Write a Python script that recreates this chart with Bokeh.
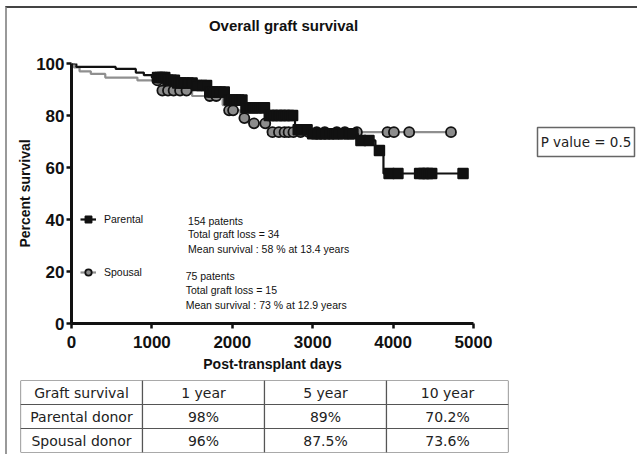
import numpy as np
from bokeh.plotting import figure
from bokeh.models import Range1d, Label, Legend, LegendItem, ColumnDataSource, FixedTicker
from bokeh.layouts import column, row
from bokeh.embed import file_html
from bokeh.resources import INLINE
from bokeh.core.properties import value

# ---------------- data ----------------
parental_times = [0, 60, 550, 800, 900, 1000, 1200, 1300, 1550, 1700, 1950, 2150, 2450,
                  2780, 2980, 3560, 3780, 3880]
parental_surv = [100, 98.7, 97.9, 96.5, 95.5, 94.6, 93.6, 92.5, 91.5, 89.0, 86.0, 83.0, 80.0,
                 74.5, 73.0, 70.4, 66.5, 57.7]
parental_end = 4920
parental_censor = [1070, 1100, 1130, 1160, 1200, 1240, 1280, 1320, 1360, 1400, 1450, 1500,
                   1560, 1620, 1680, 1720, 1760, 1800, 1850, 1900, 1960, 2000, 2040, 2080,
                   2120, 2170, 2220, 2260, 2300, 2350, 2400, 2460, 2500, 2560, 2600, 2650,
                   2700, 2750, 2820, 2870, 2930, 3000, 3050, 3100, 3150, 3200, 3260, 3310,
                   3380, 3450, 3500, 3600, 3700, 3830, 3950, 4060, 4330, 4380, 4430, 4480,
                   4870]

spousal_times = [0, 30, 100, 240, 420, 820, 1100, 1500, 1880, 1950, 2100, 2200, 2440]
spousal_surv = [100, 98.5, 97.0, 96.0, 94.6, 93.5, 89.6, 87.5, 84.0, 82.0, 79.0, 77.0, 73.6]
spousal_end = 4720
spousal_censor = [1070, 1130, 1200, 1270, 1350, 1430, 1720, 1800, 1960, 2010, 2150, 2270,
                  2410, 2500, 2580, 2650, 2700, 2760, 2850, 2950, 3050, 3150, 3300, 3400,
                  3550, 3930, 4010, 4200, 4720]

x_ticks = [0, 1000, 2000, 3000, 4000, 5000]
y_ticks = [0, 20, 40, 60, 80, 100]

title_text = ["Overall graft survival"]
parental_note = ["154 patents", "Total graft loss = 34", "Mean survival : 58 % at 13.4  years"]
spousal_note = ["75 patents", "Total graft loss = 15", "Mean survival : 73 % at 12.9 years"]

table_header = ["Graft survival", "1 year", "5 year", "10 year"]
table_groups = ["Parental donor", "Spousal donor"]
parental_table = ["98%", "89%", "70.2%"]
spousal_table = ["96%", "87.5%", "73.6%"]
p_value_text = ["P value = 0.5"]

# ---------------- styles ----------------
SANS = "Liberation Sans"
TABLE_FONT = "DejaVu Sans"


def km_step(times, surv, end):
    return list(times) + [end], list(surv) + [surv[-1]]


def at_times(times, surv, pts):
    idx = np.searchsorted(np.array(times), np.array(pts), side="right") - 1
    return [surv[i] for i in idx]


def blank(fig):
    fig.frame_align = False
    fig.grid.grid_line_color = None
    fig.outline_line_color = None
    return fig


# ---------------- title strip ----------------
tf = blank(figure(width=520, height=34, x_range=Range1d(0, 1), y_range=Range1d(0, 1),
                  output_backend="svg", toolbar_location=None,
                  x_axis_location=None, y_axis_location=None,
                  min_border_left=64, min_border_right=54, min_border_top=0, min_border_bottom=0))
tf.text(x=[0.5], y=[0.5], text=title_text, x_offset=11, text_align="center",
        text_baseline="middle", text_font=value(SANS), text_font_style="bold",
        text_font_size="15px", text_color="#111111")

# ---------------- survival plot ----------------
p = figure(width=520, height=336, x_range=Range1d(0, 5000), y_range=Range1d(0, 100),
           output_backend="svg", toolbar_location=None,
           min_border_left=64, min_border_right=54, min_border_top=21, min_border_bottom=55)
p.frame_align = False
p.outline_line_color = None
p.grid.grid_line_color = None
p.background_fill_color = "white"
p.border_fill_color = "white"

sx, sy = km_step(spousal_times, spousal_surv, spousal_end)
sp_line = p.step(sx, sy, mode="after", line_color="#8f8f8f", line_width=2.2)
sp_src = ColumnDataSource(dict(x=spousal_censor, y=at_times(spousal_times, spousal_surv, spousal_censor)))
sp_mark = p.scatter("x", "y", source=sp_src, marker="circle", size=10, fill_color="#8c8c8c",
                    line_color="#111111", line_width=1.8)

px, py = km_step(parental_times, parental_surv, parental_end)
pa_line = p.step(px, py, mode="after", line_color="#111111", line_width=2.2)
pa_src = ColumnDataSource(dict(x=parental_censor, y=at_times(parental_times, parental_surv, parental_censor)))
pa_mark = p.scatter("x", "y", source=pa_src, marker="square", size=10, fill_color="#111111",
                    line_color="#111111", line_width=1.5)

for ax in (p.xaxis[0], p.yaxis[0]):
    ax.axis_line_width = 3
    ax.axis_line_color = "#111111"
    ax.major_tick_line_width = 2.5
    ax.major_tick_line_color = "#111111"
    ax.major_tick_out = 5
    ax.major_tick_in = 0
    ax.minor_tick_line_color = None
    ax.major_label_text_font = SANS
    ax.major_label_text_font_style = "bold"
    ax.major_label_text_font_size = "17px"
    ax.major_label_text_color = "#111111"
    ax.axis_label_text_font = SANS
    ax.axis_label_text_font_style = "bold"
    ax.axis_label_text_font_size = "14px"
    ax.axis_label_text_color = "#111111"

p.xaxis.ticker = FixedTicker(ticks=x_ticks)
p.yaxis.ticker = FixedTicker(ticks=y_ticks)
p.xaxis.axis_label = "Post-transplant days"
p.yaxis.axis_label = "Percent survival"
p.xaxis.major_label_standoff = 7
p.yaxis.major_label_standoff = 2
p.xaxis.axis_label_standoff = 5
p.yaxis.axis_label_standoff = 0

legend = Legend(items=[LegendItem(label="Parental", renderers=[pa_line, pa_mark]),
                       LegendItem(label="Spousal", renderers=[sp_line, sp_mark])],
                location=(9, 41), spacing=33, padding=0, margin=0,
                border_line_color=None, background_fill_alpha=0,
                glyph_width=16, glyph_height=20, label_height=20, label_standoff=8,
                label_text_font=SANS, label_text_font_size="10.5px", label_text_color="#111111")
p.add_layout(legend)

note_style = dict(text_font=SANS, text_font_size="10.5px", text_color="#111111",
                  text_baseline="middle")
for txt, yy in zip(parental_note, [39.6, 34.4, 28.8]):
    p.add_layout(Label(x=1450, y=yy, text=txt, **note_style))
for txt, yy in zip(spousal_note, [18.1, 12.7, 7.3]):
    p.add_layout(Label(x=1420, y=yy, text=txt, **note_style))

# ---------------- P value box ----------------
pv = figure(width=110, height=160, x_range=Range1d(0, 1), y_range=Range1d(0, 1),
            output_backend="svg", toolbar_location=None,
            x_axis_location=None, y_axis_location=None,
            min_border_left=10, min_border_right=3, min_border_top=119, min_border_bottom=12)
pv.frame_align = False
pv.grid.grid_line_color = None
pv.outline_line_color = "#666666"
pv.outline_line_width = 1.5
pv.text(x=[0.5], y=[0.5], text=p_value_text, text_align="center", text_baseline="middle",
        text_font=value(TABLE_FONT), text_font_size="13.5px", text_color="#222222")

# ---------------- table ----------------
cells = [table_header,
         [table_groups[0]] + parental_table,
         [table_groups[1]] + spousal_table]
cx, cy, ct = [], [], []
for r, row_vals in enumerate(cells):
    for c, txt in enumerate(row_vals):
        cx.append(c + 0.5)
        cy.append(r + 0.5)
        ct.append(txt)
tsrc = ColumnDataSource(dict(x=cx, y=cy, text=ct))

t = blank(figure(width=520, height=76, x_range=Range1d(0, 4), y_range=Range1d(3, 0),
                 output_backend="svg", toolbar_location=None,
                 x_axis_location=None, y_axis_location=None,
                 min_border_left=13, min_border_right=19, min_border_top=2, min_border_bottom=2))
t.rect("x", "y", width=1, height=1, source=tsrc, fill_color="white",
       line_color="#555555", line_width=1.2)
t.text("x", "y", text="text", source=tsrc, text_align="center", text_baseline="middle",
       text_font=value(TABLE_FONT), text_font_size="14px", text_color="#222222")

layout = row(column(tf, p, t, spacing=0), pv, spacing=0, margin=(6, 0, 0, 5),
             styles={"border-top": "2px solid #444444", "border-left": "2px solid #999999"})

open("out.html", "w").write(file_html(layout, INLINE))
